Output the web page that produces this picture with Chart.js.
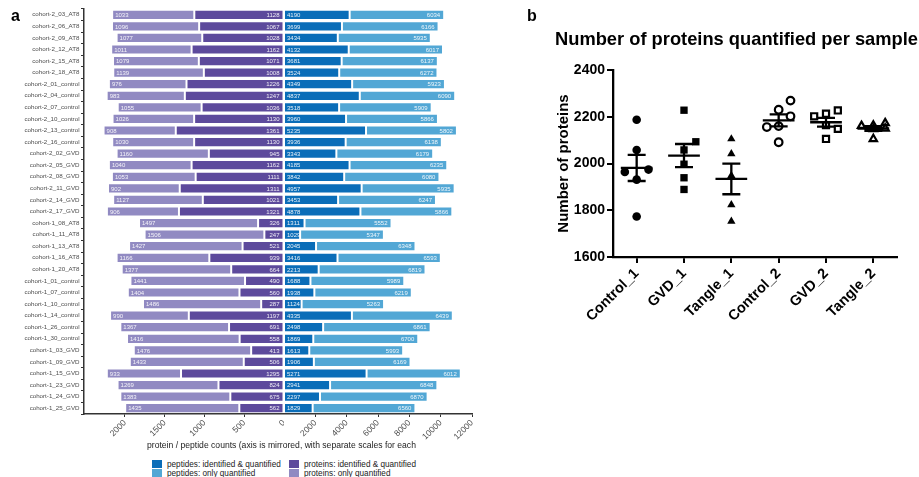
<!DOCTYPE html>
<html>
<head>
<meta charset="utf-8">
<script src="https://cdn.jsdelivr.net/npm/chart.js@4.4.1/dist/chart.umd.min.js"></script>
<style>
body { margin: 0; background: #fff; font-family: "Liberation Sans", Arial, sans-serif; }
#wrap { position: relative; width: 919px; height: 477px; overflow: hidden; }
.abs { position: absolute; }
.panel { font-weight: bold; font-size: 16px; color: #000; }
#xTitle { left: 0; top: 440px; width: 563px; text-align: center; font-size: 8.6px; color: #222; }
.key { position: absolute; width: 10px; height: 8px; }
.keyText { position: absolute; font-size: 8.2px; color: #222; line-height: 9px; white-space: nowrap; }
</style>
</head>
<body>
<div id="wrap">
  <canvas id="protChart" class="abs" width="284" height="450" style="left:0;top:0"></canvas>
  <canvas id="pepChart" class="abs" width="195" height="450" style="left:284px;top:0"></canvas>
  <div id="xTitle" class="abs">protein / peptide counts (axis is mirrored, with separate scales for each</div>
  <div id="legendA"></div>
  <canvas id="countChart" class="abs" width="379" height="477" style="left:540px;top:0"></canvas>
  <div class="abs panel" style="left:11px;top:7px">a</div>
  <div class="abs panel" style="left:527px;top:7px">b</div>
</div>
<script>
// ---- panel a: per-sample counts ----
var samples = [
  "cohort-2_03_AT8", "cohort-2_06_AT8", "cohort-2_09_AT8", "cohort-2_12_AT8", "cohort-2_15_AT8", "cohort-2_18_AT8",
  "cohort-2_01_control", "cohort-2_04_control", "cohort-2_07_control", "cohort-2_10_control", "cohort-2_13_control", "cohort-2_16_control",
  "cohort-2_02_GVD", "cohort-2_05_GVD", "cohort-2_08_GVD", "cohort-2_11_GVD", "cohort-2_14_GVD", "cohort-2_17_GVD",
  "cohort-1_08_AT8", "cohort-1_11_AT8", "cohort-1_13_AT8", "cohort-1_16_AT8", "cohort-1_20_AT8",
  "cohort-1_01_control", "cohort-1_07_control", "cohort-1_10_control", "cohort-1_14_control", "cohort-1_26_control", "cohort-1_30_control",
  "cohort-1_03_GVD", "cohort-1_09_GVD", "cohort-1_15_GVD", "cohort-1_23_GVD", "cohort-1_24_GVD", "cohort-1_25_GVD"
];
var protOnly = [1033, 1096, 1077, 1011, 1079, 1139, 976, 983, 1055, 1026, 908, 1030, 1160, 1040, 1053, 902, 1127, 906,
  1497, 1506, 1427, 1166, 1377, 1441, 1404, 1486, 990, 1367, 1416, 1476, 1433, 933, 1269, 1383, 1435];
var protIdQ = [1128, 1067, 1028, 1162, 1071, 1008, 1226, 1247, 1036, 1130, 1361, 1130, 945, 1162, 1111, 1311, 1021, 1321,
  326, 247, 521, 939, 664, 490, 560, 287, 1197, 691, 558, 413, 506, 1295, 824, 675, 562];
var pepIdQ = [4190, 3699, 3434, 4132, 3681, 3524, 4349, 4837, 3518, 3960, 5235, 3936, 3343, 4185, 3842, 4957, 3453, 4878,
  1311, 1029, 2045, 3416, 2213, 1688, 1938, 1124, 4335, 2498, 1869, 1613, 1906, 5271, 2941, 2297, 1829];
var pepOnly = [6034, 6166, 5935, 6017, 6137, 6272, 5923, 6090, 5909, 5866, 5802, 6138, 6179, 6235, 6080, 5935, 6247, 5866,
  5552, 5347, 6348, 6593, 6819, 5989, 6219, 5263, 6439, 6861, 6700, 5993, 6169, 6012, 6848, 6870, 6560];
var protTicks = [0, 500, 1000, 1500, 2000];
var pepTicks = [2000, 4000, 6000, 8000, 10000, 12000];

// ---- panel b: proteins quantified per sample, by group ----
var groups = ["Control_1", "GVD_1", "Tangle_1", "Control_2", "GVD_2", "Tangle_2"];
var control1 = [2187, 2058, 1931, 1773, 1974, 1964];
var gvd1 = [2228, 2058, 1997, 1939, 1889, 2093];
var tangle1 = [2105, 2041, 1948, 1823, 1753];
var control2 = [2230, 2160, 2091, 2269, 2202, 2156];
var gvd2 = [2213, 2164, 2105, 2227, 2148, 2202];
var tangle2 = [2163, 2105, 2173, 2161, 2150, 2147];
var groupValues = [control1, gvd1, tangle1, control2, gvd2, tangle2];
var countTicks = [1600, 1800, 2000, 2200, 2400];

var COL = {
  pepIdQ: "#0a6db8",
  pepOnly: "#52a7d5",
  protIdQ: "#5d4a9c",
  protOnly: "#918ac2"
};
var axisGrey = "#333333";
var tickGrey = "#4d4d4d";

// writes the count into each bar segment, at one end of it
function barValues(anchors) {
  return {
    id: "barValues",
    afterDatasetsDraw: function (chart) {
      var ctx = chart.ctx;
      ctx.save();
      ctx.font = "6px 'Liberation Sans', Arial, sans-serif";
      ctx.fillStyle = "rgba(255,255,255,0.9)";
      ctx.textBaseline = "middle";
      chart.data.datasets.forEach(function (ds, di) {
        chart.getDatasetMeta(di).data.forEach(function (bar, i) {
          var lo = Math.min(bar.x, bar.base), hi = Math.max(bar.x, bar.base);
          if (anchors[di] === "right") {
            ctx.textAlign = "right";
            ctx.fillText(ds.data[i], hi - 4, bar.y + 0.5);
          } else {
            ctx.textAlign = "left";
            ctx.fillText(ds.data[i], lo + 3, bar.y + 0.5);
          }
        });
      });
      ctx.restore();
    }
  };
}

function keepTicks(list) {
  return function (scale) {
    scale.ticks = list.map(function (v) { return { value: v }; });
  };
}

function plainNumber(v) { return String(v); }

function xFit(scale) {
  scale.height = 36;
  scale.paddingLeft = 0;
  scale.paddingRight = 0;
}

var barCommon = {
  stacked: true,
  borderWidth: 1,
  borderColor: "rgba(255,255,255,0.35)",
  borderSkipped: false,
  barPercentage: 0.88,
  categoryPercentage: 1.0
};

function xAxis(reverse, max, ticks) {
  return {
    type: "linear",
    reverse: reverse,
    min: 0,
    max: max,
    stacked: true,
    afterBuildTicks: keepTicks(ticks),
    afterFit: xFit,
    ticks: {
      minRotation: 45, maxRotation: 45, padding: 1,
      color: tickGrey,
      callback: plainNumber,
      font: { size: 8.5, family: "'Liberation Sans', Arial, sans-serif" }
    },
    grid: { display: true, drawOnChartArea: false, tickLength: 3, color: axisGrey, lineWidth: 1 },
    border: { color: axisGrey, width: 1.5 }
  };
}

new Chart(document.getElementById("protChart"), {
  type: "bar",
  data: {
    labels: samples,
    datasets: [
      Object.assign({ label: "proteins: identified & quantified", data: protIdQ, backgroundColor: COL.protIdQ }, barCommon),
      Object.assign({ label: "proteins: only quantified", data: protOnly, backgroundColor: COL.protOnly }, barCommon)
    ]
  },
  options: {
    indexAxis: "y",
    responsive: false,
    animation: false,
    layout: { padding: { top: 9, left: 0, right: 0, bottom: 0 } },
    plugins: { legend: { display: false }, tooltip: { enabled: false } },
    scales: {
      x: xAxis(true, 2515, protTicks),
      y: {
        stacked: true,
        afterFit: function (s) { s.width = 84; },
        ticks: {
          autoSkip: false, padding: 1.5, color: tickGrey,
          font: { size: 6.2, family: "'Liberation Sans', Arial, sans-serif" }
        },
        grid: { display: true, drawOnChartArea: false, tickLength: 3, color: axisGrey },
        border: { color: axisGrey, width: 1.5 }
      }
    }
  },
  plugins: [barValues(["right", "left"])]
});

new Chart(document.getElementById("pepChart"), {
  type: "bar",
  data: {
    labels: samples,
    datasets: [
      Object.assign({ label: "peptides: identified & quantified", data: pepIdQ, backgroundColor: COL.pepIdQ }, barCommon),
      Object.assign({ label: "peptides: only quantified", data: pepOnly, backgroundColor: COL.pepOnly }, barCommon)
    ]
  },
  options: {
    indexAxis: "y",
    responsive: false,
    animation: false,
    layout: { padding: { top: 9, left: 0, right: 7, bottom: 0 } },
    plugins: { legend: { display: false }, tooltip: { enabled: false } },
    scales: {
      x: xAxis(false, 12000, pepTicks),
      y: { stacked: true, display: false }
    }
  },
  plugins: [barValues(["left", "right"])]
});

// legend of panel a, two columns
var legendItems = [
  { text: "peptides: identified & quantified", color: COL.pepIdQ, col: 0, row: 0 },
  { text: "peptides: only quantified", color: COL.pepOnly, col: 0, row: 1 },
  { text: "proteins: identified & quantified", color: COL.protIdQ, col: 1, row: 0 },
  { text: "proteins: only quantified", color: COL.protOnly, col: 1, row: 1 }
];
var legendBox = document.getElementById("legendA");
legendItems.forEach(function (it) {
  var x = 152 + it.col * 137, y = 460 + it.row * 9;
  var sw = document.createElement("div");
  sw.className = "key";
  sw.style.left = x + "px";
  sw.style.top = y + "px";
  sw.style.background = it.color;
  var tx = document.createElement("div");
  tx.className = "keyText";
  tx.style.left = (x + 15) + "px";
  tx.style.top = (y - 0.5) + "px";
  tx.textContent = it.text;
  legendBox.appendChild(sw);
  legendBox.appendChild(tx);
});

// ---- panel b ----
// simple swarm: spread points that would overlap into side columns
function swarm(values, center) {
  var placed = [];
  return values.map(function (v) {
    var best = 0, bestGap = -1;
    [0, 1, -1].some(function (k) {
      var gap = Infinity;
      placed.forEach(function (p) { if (p.k === k) gap = Math.min(gap, Math.abs(p.v - v)); });
      if (gap >= 48) { best = k; return true; }
      if (gap > bestGap) { bestGap = gap; best = k; }
      return false;
    });
    placed.push({ v: v, k: best });
    return { x: center + best * 0.25, y: v };
  });
}

var markerStyles = [
  { pointStyle: "circle", radius: 4.3, fill: true },
  { pointStyle: "rect", radius: 5.2, fill: true },
  { pointStyle: "triangle", radius: 4.8, fill: true },
  { pointStyle: "circle", radius: 3.8, fill: false },
  { pointStyle: "rect", radius: 4.3, fill: false },
  { pointStyle: "triangle", radius: 4.2, fill: false }
];

var scatterSets = groupValues.map(function (vals, i) {
  var m = markerStyles[i];
  return {
    label: groups[i],
    data: swarm(vals, i),
    pointStyle: m.pointStyle,
    pointRadius: m.radius,
    pointBackgroundColor: m.fill ? "#000" : "#fff",
    pointBorderColor: "#000",
    pointBorderWidth: m.fill ? 0 : 2.2
  };
});

var meanSem = {
  id: "meanSem",
  afterDatasetsDraw: function (chart) {
    var ctx = chart.ctx, xs = chart.scales.x, ys = chart.scales.y;
    ctx.save();
    ctx.strokeStyle = "#000";
    ctx.lineWidth = 2.3;
    groupValues.forEach(function (vals, i) {
      var n = vals.length;
      var mean = vals.reduce(function (a, b) { return a + b; }, 0) / n;
      var ss = vals.reduce(function (a, b) { return a + (b - mean) * (b - mean); }, 0);
      var sem = Math.sqrt(ss / (n - 1)) / Math.sqrt(n);
      var yM = ys.getPixelForValue(mean), yT = ys.getPixelForValue(mean + sem), yB = ys.getPixelForValue(mean - sem);
      var xc = xs.getPixelForValue(i);
      ctx.beginPath();
      ctx.moveTo(xs.getPixelForValue(i - 0.335), yM); ctx.lineTo(xs.getPixelForValue(i + 0.335), yM);
      ctx.moveTo(xs.getPixelForValue(i - 0.19), yT); ctx.lineTo(xs.getPixelForValue(i + 0.19), yT);
      ctx.moveTo(xs.getPixelForValue(i - 0.19), yB); ctx.lineTo(xs.getPixelForValue(i + 0.19), yB);
      ctx.moveTo(xc, yT); ctx.lineTo(xc, yB);
      ctx.stroke();
    });
    ctx.restore();
  }
};

var boldFont = "'Liberation Sans', Arial, sans-serif";

new Chart(document.getElementById("countChart"), {
  type: "scatter",
  data: { datasets: scatterSets },
  options: {
    responsive: false,
    animation: false,
    layout: { padding: { top: 0, left: 15, right: 1, bottom: 0 } },
    plugins: {
      legend: { display: false },
      tooltip: { enabled: false },
      title: {
        display: true,
        text: "Number of proteins quantified per sample",
        align: "start",
        color: "#000",
        font: { size: 18.5, weight: "bold", family: boldFont },
        padding: { top: 29, bottom: 18.8 }
      }
    },
    scales: {
      x: {
        type: "linear",
        min: -0.5,
        max: 5.5,
        afterBuildTicks: keepTicks([0, 1, 2, 3, 4, 5]),
        afterFit: function (s) { s.height = 220; s.paddingLeft = 0; s.paddingRight = 22; },
        ticks: {
          minRotation: 45, maxRotation: 45, padding: 2, color: "#000",
          font: { size: 14.5, weight: "bold", family: boldFont },
          callback: function (v) { return groups[v]; }
        },
        grid: { display: true, drawOnChartArea: false, tickLength: 6, color: "#000", lineWidth: 2 },
        border: { color: "#000", width: 2.3 }
      },
      y: {
        min: 1600,
        max: 2400,
        afterBuildTicks: keepTicks(countTicks),
        afterFit: function (s) { s.width = 58; },
        ticks: {
          padding: 2, color: "#000",
          callback: plainNumber,
          font: { size: 14, weight: "bold", family: boldFont }
        },
        title: {
          display: true, text: "Number of proteins", color: "#000", padding: 0,
          font: { size: 15, weight: "bold", family: boldFont }
        },
        grid: { display: true, drawOnChartArea: false, tickLength: 6, color: "#000", lineWidth: 2 },
        border: { color: "#000", width: 2.3 }
      }
    }
  },
  plugins: [meanSem]
});
</script>
</body>
</html>
